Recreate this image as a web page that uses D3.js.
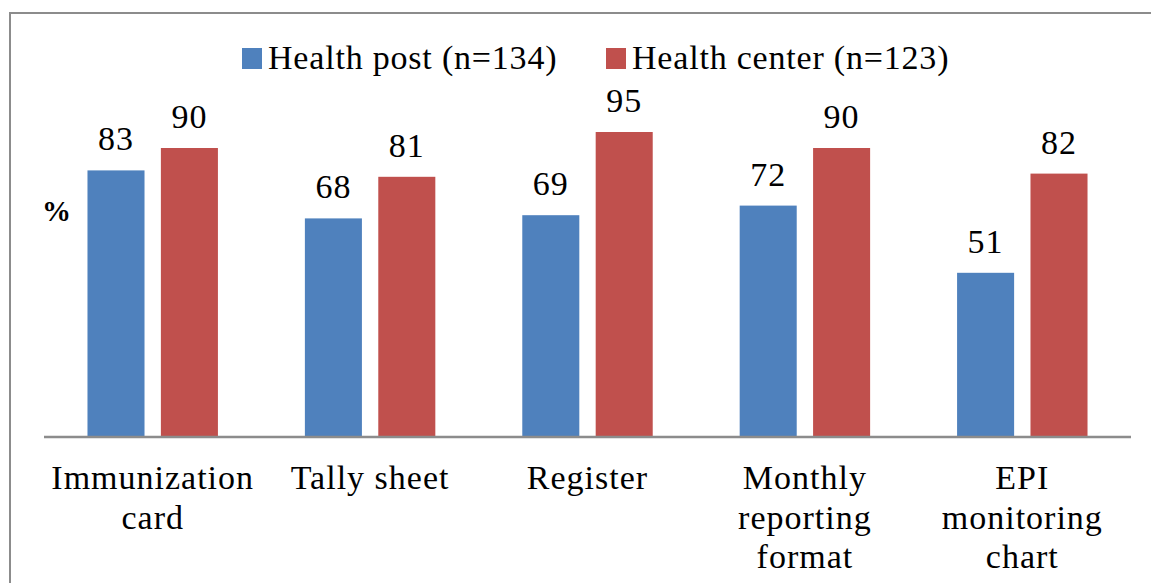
<!DOCTYPE html>
<html>
  <head>
    <meta charset="utf-8" />
    <title>Health post vs health center</title>
    <style type="text/css">
      html, body { margin: 0; padding: 0; background: #fff; }
      svg text { font-family: "Liberation Serif", "Times New Roman", serif; fill: #000; }
    </style>
  </head>
  <body>
    <svg id="chart" width="1151" height="583"></svg>

    <script type="text/javascript" src="https://cdn.jsdelivr.net/npm/d3@7/dist/d3.min.js"></script>
    <script type="text/javascript">

    var categories = [
      ['Immunization', 'card'],
      ['Tally sheet'],
      ['Register'],
      ['Monthly', 'reporting', 'format'],
      ['EPI', 'monitoring', 'chart']
    ];
    var seriesNames = ['Health post (n=134)', 'Health center (n=123)'];
    var healthPost = [83, 68, 69, 72, 51];
    var healthCenter = [90, 81, 95, 90, 82];
    var colors = ['#4F81BD', '#C0504D'];

    var svg = d3.select('#chart');

    // chart frame (right and bottom edges run off the picture)
    svg.append('rect')
      .attr('x', 10).attr('y', 13)
      .attr('width', 1160).attr('height', 600)
      .attr('fill', 'none')
      .attr('stroke', '#8c8c8c')
      .attr('stroke-width', 2);

    var keys = categories.map(function(c, i) { return i; });

    var x0 = d3.scaleBand()
               .domain(keys)
               .range([44, 1131]);

    var bw = x0.bandwidth();
    var x1 = d3.scaleBand()
               .domain([0, 1])
               .range([bw * 0.2, bw * 0.8])
               .paddingInner(0.223);

    var y = d3.scaleLinear()
              .domain([0, 100])
              .range([436, 116]);

    var rows = keys.map(function(i) {
      return { i: i, values: [healthPost[i], healthCenter[i]] };
    });

    var groups = svg.selectAll('.group')
                    .data(rows)
                    .enter()
                    .append('g')
                      .attr('class', 'group')
                      .attr('transform', function(d) { return 'translate(' + x0(d.i) + ',0)'; });

    groups.selectAll('rect')
          .data(function(d) { return d.values.map(function(v, s) { return { s: s, v: v }; }); })
          .enter()
          .append('rect')
            .attr('x', function(d) { return x1(d.s); })
            .attr('y', function(d) { return y(d.v); })
            .attr('width', x1.bandwidth())
            .attr('height', function(d) { return y(0) - y(d.v); })
            .attr('fill', function(d) { return colors[d.s]; });

    groups.selectAll('.val')
          .data(function(d) { return d.values.map(function(v, s) { return { s: s, v: v }; }); })
          .enter()
          .append('text')
            .attr('class', 'val')
            .attr('x', function(d) { return x1(d.s) + x1.bandwidth() / 2; })
            .attr('y', function(d) { return y(d.v) - 20; })
            .attr('text-anchor', 'middle')
            .attr('font-size', 34)
            .attr('letter-spacing', 1)
            .text(function(d) { return d.v; });

    // baseline
    svg.append('line')
      .attr('x1', 44).attr('x2', 1131)
      .attr('y1', y(0) + 1).attr('y2', y(0) + 1)
      .attr('stroke', '#8c8c8c')
      .attr('stroke-width', 2.5);

    // category labels
    var xAxis = d3.axisBottom(x0).tickSize(0).tickFormat('');
    var ax = svg.append('g')
                .attr('transform', 'translate(0,' + y(0) + ')')
                .call(xAxis);
    ax.select('.domain').remove();

    ax.selectAll('.tick').append('text')
      .attr('text-anchor', 'middle')
      .attr('font-size', 34)
      .attr('letter-spacing', 1)
      .selectAll('tspan')
      .data(function(d) { return categories[d]; })
      .enter()
      .append('tspan')
        .attr('x', 0)
        .attr('y', function(d, i) { return 53 + i * 39.5; })
        .text(function(d) { return d; });

    // y title
    svg.append('text')
      .attr('x', 42).attr('y', 221)
      .attr('font-size', 29)
      .attr('font-weight', 'bold')
      .text('%');

    // legend
    var legendX = [242, 606];
    var legend = svg.selectAll('.legend')
                    .data(seriesNames)
                    .enter()
                    .append('g')
                      .attr('class', 'legend')
                      .attr('transform', function(d, i) { return 'translate(' + legendX[i] + ',0)'; });

    legend.append('rect')
      .attr('x', 0).attr('y', 48)
      .attr('width', 20).attr('height', 21)
      .attr('fill', function(d, i) { return colors[i]; });

    legend.append('text')
      .attr('x', 26).attr('y', 69)
      .attr('font-size', 34)
      .attr('letter-spacing', 0.8)
      .text(function(d) { return d; });

    </script>
  </body>
</html>
